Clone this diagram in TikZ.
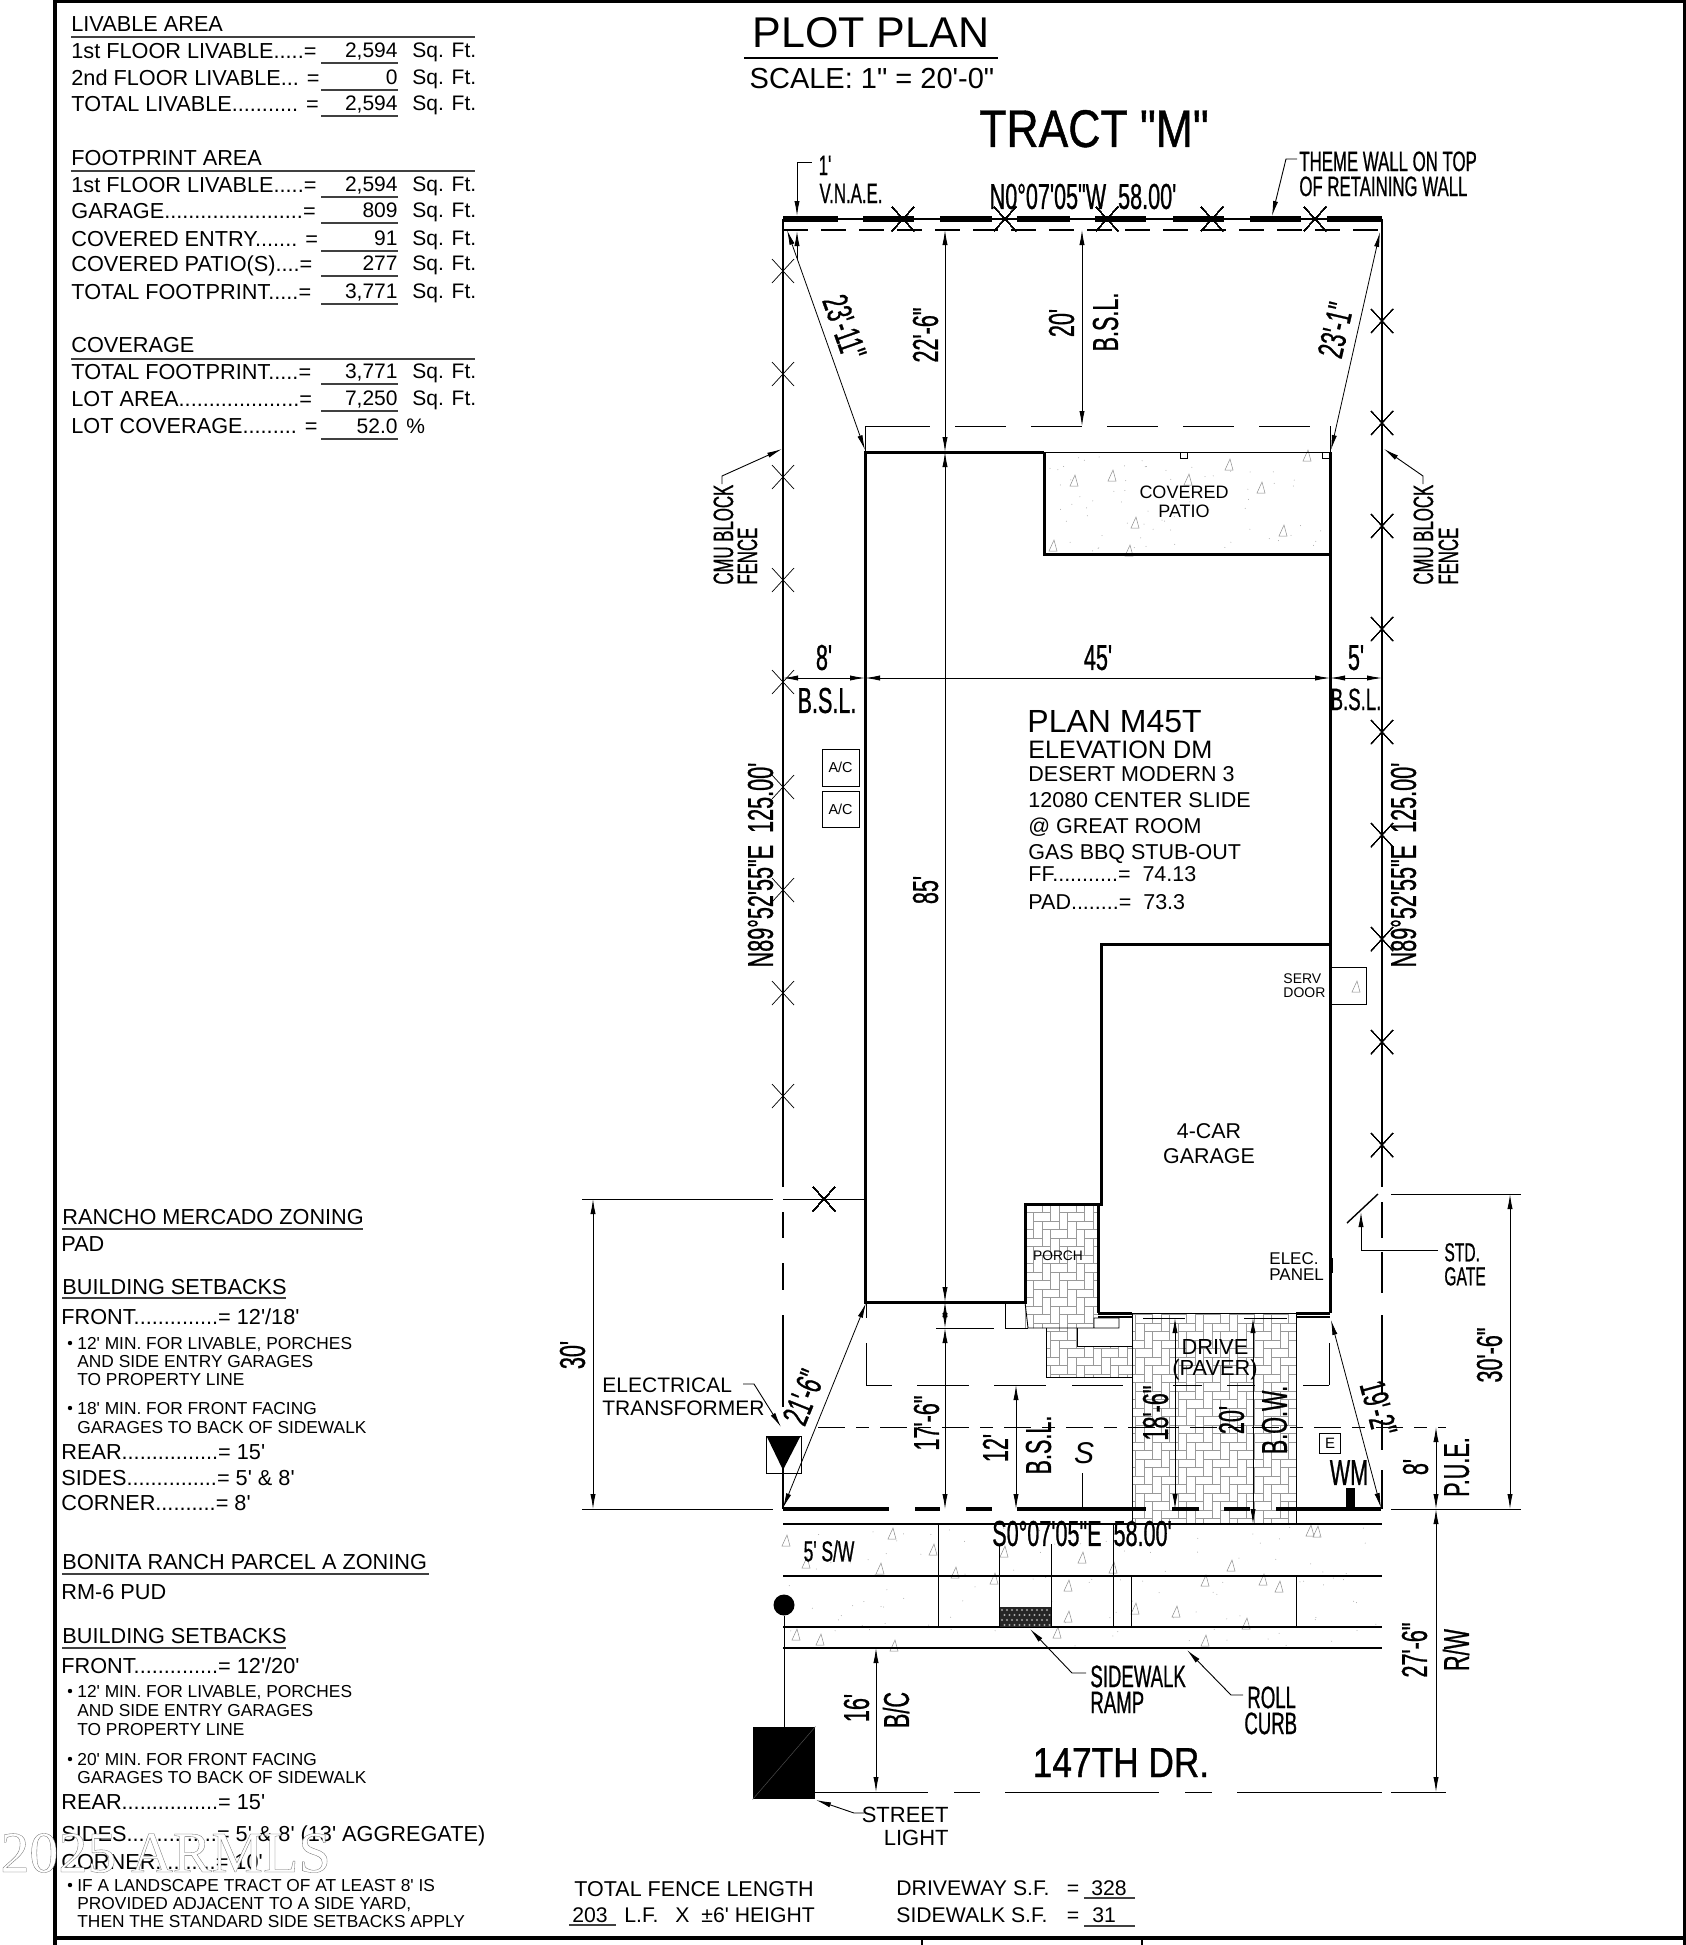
\documentclass[tikz,border=0pt]{standalone}
\usepackage{fontspec}
\setmainfont[Ligatures=TeXOff]{Liberation Sans}
\newfontfamily\narrowf[Ligatures=TeXOff,FakeStretch=0.6,FakeBold=0.7]{Liberation Sans}
\newfontfamily\midf[Ligatures=TeXOff,FakeStretch=0.84,FakeBold=0.8]{Liberation Sans}
\newfontfamily\wmarkf[Ligatures=TeXOff]{Liberation Serif}
\usetikzlibrary{arrows.meta}
\tikzset{
	lbl/.style={inner sep=0pt,font=\fontsize{#1}{#1}\selectfont,text height=#1*0.716pt,text depth=0pt},
	nar/.style={lbl=#1,font={\narrowf\fontsize{#1}{#1}\selectfont}},
	wide/.style={lbl=#1,font={\midf\fontsize{#1}{#1}\selectfont}},
	frameline/.style={line width=1.6pt},
	wall/.style={line width=1.5pt},
	thinline/.style={line width=0.45pt},
	rule/.style={line width=0.55pt,draw=black!75},
	fence/.style={line width=1.1pt},
	xmark/.style={line width=0.35pt},
	dim/.style={line width=0.4pt,{Latex[length=7.5pt,width=2.6pt]}-{Latex[length=7.5pt,width=2.6pt]}},
	leader/.style={line width=0.45pt,-{Latex[length=7.5pt,width=2.6pt]}},
	conc/.style={line width=0.25pt,draw=black!45},
	paver/.style={line width=0.3pt,draw=black!40},
}
\newcommand{\fencex}[2]{\draw[xmark] (#1,#2) +(-11,-12) -- +(11,12) +(-11,12) -- +(11,-12);}
\begin{document}
\begin{tikzpicture}[x=0.5pt,y=-0.5pt]
	\useasboundingbox (0,0) rectangle (1686,1945);
	% sheet frame
	\draw[frameline] (1686,1) -- (55,1) -- (55,1945);
	\draw[frameline] (1685,1) -- (1685,1945);
	\draw[frameline] (55,1938) -- (1686,1938);
	\draw[line width=0.8pt] (922,1938) -- (922,1945);
	\draw[line width=0.8pt] (1142,1938) -- (1142,1945);

	% area tables
	\node[lbl=10.85,anchor=west] (livable) at (71,24) {LIVABLE AREA};
	\node[lbl=10.85,anchor=west] (footprint) at (71,158) {FOOTPRINT AREA};
	\node[lbl=10.85,anchor=west] (coverage) at (71,345) {COVERAGE};
	\foreach \yy in {37,171,359}
		\draw[rule] (71,\yy) -- (475,\yy);
	\foreach \lab/\val/\yy in {
		{1st FLOOR LIVABLE.....=}/{2,594}/51,
		{2nd FLOOR LIVABLE... =}/0/78,
		{TOTAL LIVABLE........... =}/{2,594}/104,
		{1st FLOOR LIVABLE.....=}/{2,594}/185,
		{GARAGE.......................=}/809/211,
		{COVERED ENTRY....... =}/91/239,
		{COVERED PATIO(S)....=}/277/264,
		{TOTAL FOOTPRINT.....=}/{3,771}/292,
		{TOTAL FOOTPRINT.....=}/{3,771}/372,
		{LOT AREA....................=}/{7,250}/399}
	{
		\node[lbl=10.85,anchor=west] (row\yy) at (71,\yy) {\lab};
		\node[lbl=10.5,anchor=east] (val\yy) at (398,\yy-1) {\val};
		\node[lbl=10.5,anchor=west] (unit\yy) at (412,\yy-1) {Sq. Ft.};
		\draw[rule] (321,\yy+12) -- (398,\yy+12);
	}
	\node[lbl=10.85,anchor=west] (lotcov) at (71,426) {LOT COVERAGE......... =};
	\node[lbl=10.5,anchor=east] (lotval) at (398,426) {52.0};
	\node[lbl=10.5,anchor=west] (lotpct) at (406,426) {\%};
	\draw[rule] (321,439) -- (398,439);

	% zoning notes
	\foreach \txt/\xx/\yy in {
		{RANCHO MERCADO ZONING}/62/1217, {PAD}/61/1244, {BUILDING SETBACKS}/62/1287,
		{FRONT..............= 12'/18'}/61/1317, {REAR................= 15'}/61/1452,
		{SIDES...............= 5' \& 8'}/61/1478, {CORNER..........= 8'}/61/1503,
		{BONITA RANCH PARCEL A ZONING}/62/1562, {RM-6 PUD}/61/1592, {BUILDING SETBACKS}/62/1636,
		{FRONT..............= 12'/20'}/61/1666, {REAR................= 15'}/61/1802,
		{SIDES...............= 5' \& 8' (13' AGGREGATE)}/61/1834, {CORNER..........= 10'}/61/1862}
		\node[lbl=10.85,anchor=west] (note\yy) at (\xx,\yy) {\txt};
	\foreach \xa/\xb/\yy in {62/363/1229,62/286/1298,62/429/1574,62/286/1648}
		\draw[rule] (\xa,\yy) -- (\xb,\yy);
	\foreach \txt/\yy in {
		{12' MIN. FOR LIVABLE, PORCHES}/1343, {AND SIDE ENTRY GARAGES}/1361, {TO PROPERTY LINE}/1379,
		{18' MIN. FOR FRONT FACING}/1408, {GARAGES TO BACK OF SIDEWALK}/1427,
		{12' MIN. FOR LIVABLE, PORCHES}/1691, {AND SIDE ENTRY GARAGES}/1710, {TO PROPERTY LINE}/1729,
		{20' MIN. FOR FRONT FACING}/1759, {GARAGES TO BACK OF SIDEWALK}/1777,
		{IF A LANDSCAPE TRACT OF AT LEAST 8' IS}/1885, {PROVIDED ADJACENT TO A SIDE YARD,}/1903,
		{THEN THE STANDARD SIDE SETBACKS APPLY}/1921}
		\node[lbl=8.67,anchor=west] (small\yy) at (77,\yy) {\txt};
	\foreach \yy in {1343,1408,1691,1759,1885}
		\fill (70,\yy) circle (2.2);

	% titles
	\node[lbl=21.5] (plottitle) at (871,32) {PLOT PLAN};
	\draw[line width=1.4pt] (744,58) -- (998,58);
	\node[lbl=14.5] (scale) at (872,78) {SCALE: 1" = 20'-0"};
	\node[wide=26.5] (tract) at (1094,128) {TRACT "M"};

	% paver field
	\begin{scope}
		\clip (1025,1204) rectangle (1098,1328) (1046,1328) rectangle (1132,1377) (1132,1313) rectangle (1296,1524);
		\foreach \a in {-4,...,38}
			\foreach \b in {-12,...,11}
				\draw[paver] ({1025+8.5*(\a+2*\b)},{1204+8.5*(\a-2*\b)}) rectangle +(17,8.5)
					({1025+8.5*(\a+2*\b)},{1204+8.5*(\a-2*\b+1)}) rectangle +(8.5,17);
	\end{scope}
	\fill[white] (1077,1328) rectangle (1132,1346);
	\fill[white] (1094,1318) rectangle (1119,1328);

	% concrete marks
	\foreach \xx/\yy in {1074/481,1112/476,1229/465,1261/488,1283/531,1135/523,1053/546,1307/456,1188/480,1129/551,
		786/1541,892/1534,933/1550,880/1569,806/1563,1004/1552,994/1579,1082/1558,1068/1586,1068/1617,1057/1633,
		1113/1568,1135/1609,1176/1612,1231/1566,1205/1581,1263/1580,1279/1587,1310/1531,1317/1532,1205/1641,1246/1624,
		820/1640,796/1635,894/1646,955/1573,1356/987}
		\draw[conc] (\xx-4,\yy+5) -- (\xx+4,\yy+5) -- (\xx+1,\yy-6) -- cycle;
	\pgfmathsetseed{7}
	\foreach \i in {1,...,70}
		\fill[black!35] ({1050+275*rnd},{456+95*rnd}) circle (0.5);
	\foreach \i in {1,...,110}
		\fill[black!35] ({785+595*rnd},{1526+120*rnd}) circle (0.5);

	% lot lines
	\draw[fence] (783,219) -- (783,1187);
	\draw[fence] (1382,219) -- (1382,1187);
	\draw[line width=1.4pt] (783,219) -- (1382,219);
	\foreach \xa/\xb in {783/838,863/914,940/992,1017/1070,1095/1146,1173/1224,1250/1301,1327/1382}
		\draw[line width=3.4pt] (\xa,219) -- (\xb,219);
	\draw[line width=0.8pt,dash pattern=on 12.5pt off 6.5pt] (783,230) -- (1382,230);
	\foreach \ya/\yb in {1212/1238,1263/1290,1315/1407,1437/1509}
		\draw[fence] (783,\ya) -- (783,\yb);
	\foreach \ya/\yb in {1202/1238,1252/1293,1315/1395,1420/1450,1470/1509}
		\draw[fence] (1382,\ya) -- (1382,\yb);
	\foreach \xa/\xb in {783/889,915/940,966/992,1017/1146,1172/1199,1224/1250,1276/1381}
		\draw[line width=1.6pt] (\xa,1509) -- (\xb,1509);
	\foreach \yy in {271,374,477,580,682,787,890,993,1096}
		\fencex{783}{\yy}
	\foreach \yy in {321,423,526,629,732,835,939,1042,1145}
		\fencex{1382}{\yy}
	\foreach \xx in {903,1005,1107,1212,1315}
		\fencex{\xx}{219}
	\fencex{824}{1199}
	\draw[thinline] (783,1199) -- (866,1199);
	\draw[line width=0.7pt] (1378,1194) -- (1347,1223);

	% building setback lines
	\draw[thinline] (865,452) -- (865,426) -- (880,426);
	\draw[thinline] (1330,452) -- (1330,426);
	\draw[thinline,dash pattern=on 25.5pt off 12.5pt] (879,426) -- (1330,426);
	\draw[thinline] (866,1302) -- (866,1318) (866,1343) -- (866,1385);
	\draw[thinline] (1329,1343) -- (1329,1385);
	\foreach \xa/\xb in {866/892,917/969,994/1046,1072/1123,1173/1202,1227/1255,1303/1329}
		\draw[thinline] (\xa,1385) -- (\xb,1385);
	\draw[thinline,dash pattern=on 13.5pt off 5.5pt on 6.5pt off 5.5pt] (818,1427) -- (1446,1427);

	% building
	\draw[wall] (1044,452) -- (865,452) -- (865,1302) -- (1025,1302) -- (1025,1204) -- (1101,1204) -- (1101,944) -- (1330,944);
	\draw[wall] (1330,452) -- (1330,1313);
	\draw[wall] (1044,452) -- (1044,554) -- (1330,554);
	\draw[thinline] (1044,452) -- (1330,452);
	\draw[thinline] (1180,452) rectangle (1187,458) (1322,452) rectangle (1329,458);
	\draw[wall] (1098,1204) -- (1098,1313);
	\draw[thinline] (1098,1313) -- (1296,1313);
	\draw[line width=1.5pt] (1098,1313) -- (1132,1313) (1296,1313) -- (1330,1313);
	\draw[line width=0.8pt] (1098,1317) -- (1132,1317) (1296,1317) -- (1330,1317);
	\draw[thinline] (1132,1313) -- (1132,1524) (1296,1313) -- (1296,1524);
	\draw[thinline] (1025,1302) -- (1028,1328) -- (1119,1328) -- (1119,1318) -- (1094,1318) -- (1094,1328);
	\draw[thinline] (1005,1302) -- (1005,1328) -- (1028,1328);
	\draw[thinline] (1046,1328) -- (1046,1377) -- (1132,1377);
	\draw[thinline] (1077,1328) -- (1077,1346) -- (1132,1346);
	\draw[line width=1.2pt] (1332,1258) -- (1332,1273);

	% boxes
	\node[draw,thinline,minimum width=18.5pt,minimum height=18.5pt,inner sep=0pt,font=\fontsize{7.2}{8}\selectfont] (acA) at (840.5,767.5) {A/C};
	\node[draw,thinline,minimum width=18.5pt,minimum height=18pt,inner sep=0pt,font=\fontsize{7.2}{8}\selectfont] (acB) at (840.5,809) {A/C};
	\draw[thinline] (1331,967) rectangle (1366,1004);
	\node[draw,thinline,minimum width=10.5pt,minimum height=10pt,inner sep=0pt,font=\fontsize{7.5}{8}\selectfont] (ebox) at (1330,1443) {E};
	\draw[thinline] (766,1436) rectangle (801,1473);
	\fill (767,1437) -- (800,1437) -- (783,1470) -- cycle;
	\fill (1346,1488) rectangle (1355,1509);

	% sidewalk and street
	\foreach \yy in {1524,1576,1627,1648}
		\draw[line width=0.7pt] (783,\yy) -- (1382,\yy);
	\draw[thinline] (938,1524) -- (938,1627) (999.5,1544) -- (999.5,1627) (1051,1544) -- (1051,1627) (1113,1524) -- (1113,1627);
	\draw[thinline] (1131,1576) -- (1131,1627) (1296,1576) -- (1296,1627);
	\fill[black!85] (999.5,1607) rectangle (1051,1627);
	\foreach \i in {0,...,9}
		\foreach \j in {0,...,3}
			\fill[black!35] ({1002+5*\i+(mod(\j,2))*2.5},{1610+5*\j}) circle (1.1);
	\node[circle,fill=black,minimum size=10.5pt,inner sep=0pt] (lamp) at (784,1605) {};
	\node[fill=black,minimum width=31pt,minimum height=36pt,inner sep=0pt] (pole) at (784,1763) {};
	\draw[thinline] (lamp) -- (pole);
	\draw[line width=0.25pt,draw=black!70] (pole.south west) -- (pole.north east);
	\foreach \xa/\xb in {815/928,954/980,1005/1159,1185/1212,1237/1382,1391/1446}
		\draw[thinline] (\xa,1792) -- (\xb,1792);

	% extension lines
	\draw[thinline] (582,1199) -- (773,1199) (582,1509) -- (773,1509);
	\draw[thinline] (1391,1194) -- (1521,1194) (1391,1509) -- (1521,1509);
	\draw[thinline] (936,1328) -- (994,1328);
	\draw[thinline] (1143,1318) -- (1185,1318) (1244,1318) -- (1287,1318);
	\draw[thinline] (1082.5,1473) -- (1082.5,1509);

	% dimensions
	\draw[dim] (945,230) -- (945,452);
	\draw[dim] (945,452) -- (945,1302);
	\draw[dim] (945,1302) -- (945,1328);
	\draw[dim] (945,1328) -- (945,1509);
	\draw[dim] (1082,230) -- (1082,426);
	\draw[dim] (787,230) -- (865,450);
	\draw[dim] (1380,232) -- (1331,450);
	\draw[dim] (783,678) -- (865,678);
	\draw[dim] (865,678) -- (1330,678);
	\draw[dim] (1330,678) -- (1382,678);
	\draw[dim] (593,1199) -- (593,1509);
	\draw[dim] (1510,1194) -- (1510,1509);
	\draw[dim] (783,1508) -- (866,1303);
	\draw[dim] (1331,1320) -- (1381,1508);
	\draw[dim] (1016,1385) -- (1016,1509);
	\draw[dim] (1175,1318) -- (1175,1509);
	\draw[dim] (1253,1318) -- (1253,1524);
	\draw[dim] (1436,1427) -- (1436,1509);
	\draw[dim] (1436,1509) -- (1436,1792);
	\draw[dim] (876,1648) -- (876,1792);
	\draw[thinline,-{Latex[length=7.5pt,width=2.6pt]}] (797,162) -- (797,216);
	\draw[thinline] (797,162) -- (812,162);
	\draw[thinline,-{Latex[length=7.5pt,width=2.6pt]}] (797,260) -- (797,231);

	% leaders
	\draw[leader] (1297,159) -- (1286,159) -- (1272,216);
	\draw[leader] (722,484) -- (722,476) -- (782,449);
	\draw[leader] (1423,484) -- (1423,476) -- (1384,449);
	\draw[leader] (1438,1250) -- (1361,1250) -- (1361,1212);
	\draw[leader] (743,1384) -- (754,1384) -- (781,1427);
	\draw[leader] (1086,1673) -- (1072,1673) -- (1030,1629);
	\draw[leader] (1243,1695) -- (1231,1695) -- (1187,1650);
	\draw[leader] (864,1813) -- (854,1813) -- (816,1800);

	% lot labels
	\node[nar=18] (northbrg) at (1083,196) {N0°07'05"W\ \ 58.00'};
	\node[nar=18] (southbrg) at (1082,1533) {S0°07'05"E\ \ 58.00'};
	\node[nar=18,rotate=90] (westbrg) at (760,865) {N89°52'55"E\ \ 125.00'};
	\node[nar=18,rotate=90] (eastbrg) at (1403,865) {N89°52'55"E\ \ 125.00'};
	\node[nar=14] (onefoot) at (825,165) {1'};
	\node[nar=14] (vnae) at (851,193) {V.N.A.E.};
	\node[nar=14,anchor=west] (themeA) at (1299,161) {THEME WALL ON TOP};
	\node[nar=14,anchor=west] (themeB) at (1299,186) {OF RETAINING WALL};
	\node[nar=14,rotate=90,anchor=west] (cmuA) at (723,585) {CMU BLOCK};
	\node[nar=14,rotate=90,anchor=west] (cmuB) at (747,585) {FENCE};
	\node[nar=14,rotate=90,anchor=west] (cmuC) at (1423,585) {CMU BLOCK};
	\node[nar=14,rotate=90,anchor=west] (cmuD) at (1448,585) {FENCE};

	% dimension labels
	\node[nar=18,rotate=-70.5] (dimA) at (845,327) {23'-11"};
	\node[nar=18,rotate=77] (dimB) at (1335,330) {23'-1"};
	\node[nar=18,rotate=90] (dimC) at (925,335) {22'-6"};
	\node[nar=18,rotate=90] (dimD) at (1061,323) {20'};
	\node[nar=18,rotate=90] (bslA) at (1105,322) {B.S.L.};
	\node[nar=18,rotate=90] (dimE) at (925,890) {85'};
	\node[nar=18] (dimF) at (824,657) {8'};
	\node[nar=18] (dimG) at (1098,657) {45'};
	\node[nar=18] (dimH) at (1356,657) {5'};
	\node[nar=18] (bslB) at (827,700) {B.S.L.};
	\node[nar=15.5] (bslC) at (1356,699) {B.S.L.};
	\node[nar=18,rotate=90] (dimJ) at (572,1355) {30'};
	\node[nar=18,rotate=90] (dimK) at (1489,1355) {30'-6"};
	\node[nar=18,rotate=68] (dimL) at (803,1397) {21'-6"};
	\node[nar=18,rotate=-75] (dimM) at (1379,1408) {19'-2"};
	\node[nar=18,rotate=90] (dimN) at (926,1423) {17'-6"};
	\node[nar=18,rotate=90] (dimP) at (995,1448) {12'};
	\node[nar=18,rotate=90] (bslD) at (1038,1445) {B.S.L.};
	\node[nar=18,rotate=90] (dimQ) at (1155,1413) {18'-6"};
	\node[nar=18,rotate=90] (dimR) at (1231,1420) {20'};
	\node[nar=18,rotate=90] (bow) at (1274,1420) {B.O.W.};
	\node[nar=18,rotate=90] (dimS) at (1415,1467) {8'};
	\node[nar=18,rotate=90] (pue) at (1456,1467) {P.U.E.};
	\node[nar=18,rotate=90] (dimT) at (1414,1650) {27'-6"};
	\node[nar=18,rotate=90] (rw) at (1456,1650) {R/W};
	\node[nar=18,rotate=90] (dimU) at (856,1708) {16'};
	\node[nar=18,rotate=90] (bc) at (896,1710) {B/C};
	\node[lbl=15,font=\fontsize{15}{15}\selectfont\itshape] (sewer) at (1084,1453) {S};
	\node[nar=18] (wm) at (1349,1472) {WM};

	% plan labels
	\node[lbl=16,anchor=west] (plan) at (1027,721) {PLAN M45T};
	\node[lbl=12.6,anchor=west] (elev) at (1028,749) {ELEVATION DM};
	\foreach \txt/\yy in {{DESERT MODERN 3}/774,{12080 CENTER SLIDE}/800,{@ GREAT ROOM}/826,{GAS BBQ STUB-OUT}/852,{FF...........=\ \ 74.13}/874,{PAD........=\ \ 73.3}/902}
		\node[lbl=10.75,anchor=west] (info\yy) at (1028,\yy) {\txt};
	\node[lbl=9] (patioA) at (1184,492) {COVERED};
	\node[lbl=9] (patioB) at (1184,511) {PATIO};
	\node[lbl=10.7] (garageA) at (1209,1131) {4-CAR};
	\node[lbl=10.7] (garageB) at (1209,1156) {GARAGE};
	\node[lbl=7,anchor=west] (servA) at (1283,978) {SERV};
	\node[lbl=7,anchor=west] (servB) at (1283,992) {DOOR};
	\node[lbl=8.5,anchor=west] (elecA) at (1269,1258) {ELEC.};
	\node[lbl=8.5,anchor=west] (elecB) at (1269,1274) {PANEL};
	\node[lbl=6.9] (porch) at (1058,1256) {PORCH};
	\node[lbl=10.9] (driveA) at (1215,1347) {DRIVE};
	\node[lbl=10.9] (driveB) at (1215,1368) {(PAVER)};
	\node[lbl=10.5,anchor=west] (elecC) at (602,1385) {ELECTRICAL};
	\node[lbl=10.5,anchor=west] (elecD) at (602,1408) {TRANSFORMER};
	\node[nar=13,anchor=west] (gateA) at (1444,1252) {STD.};
	\node[nar=13,anchor=west] (gateB) at (1444,1276) {GATE};
	\node[nar=14.5] (sw) at (829,1551) {5' S/W};
	\node[nar=15.5,anchor=west] (rampA) at (1090,1676) {SIDEWALK};
	\node[nar=15.5,anchor=west] (rampB) at (1090,1702) {RAMP};
	\node[nar=15.5,anchor=west] (curbA) at (1247,1697) {ROLL};
	\node[nar=15.5,anchor=west] (curbB) at (1244,1723) {CURB};
	\node[wide=21] (street) at (1121,1762) {147TH DR.};
	\node[lbl=11,anchor=east] (lightA) at (949,1815) {STREET};
	\node[lbl=11,anchor=east] (lightB) at (949,1838) {LIGHT};

	% fence and paving totals
	\node[lbl=10.75,anchor=west] (fenceA) at (574,1889) {TOTAL FENCE LENGTH};
	\node[lbl=10.6,anchor=west] (fenceB) at (572,1915) {203};
	\node[lbl=10.6,anchor=west] (fenceC) at (624,1915) {L.F.};
	\node[lbl=10.6,anchor=west] (fenceD) at (675,1915) {X};
	\node[lbl=10.6,anchor=west] (fenceE) at (701,1915) {±6' HEIGHT};
	\draw[rule] (569,1925) -- (616,1925);
	\node[lbl=10.6,anchor=west] (paveA) at (896,1888) {DRIVEWAY S.F.};
	\node[lbl=10.6,anchor=west] (paveB) at (896,1915) {SIDEWALK S.F.};
	\node[lbl=10.6] (eqA) at (1073,1888) {=};
	\node[lbl=10.6] (eqB) at (1073,1915) {=};
	\node[lbl=10.6] (paveC) at (1109,1888) {328};
	\node[lbl=10.6,anchor=west] (paveD) at (1092,1915) {31};
	\draw[rule] (1084,1898) -- (1135,1898) (1084,1926) -- (1135,1926);

	% watermark
	\node[inner sep=0pt,anchor=west,font=\wmarkf\fontsize{29}{29}\selectfont] (armls) at (0,1853) {\special{pdf:code 2 Tr 0.15 w 1 1 1 rg 0.4 0.4 0.4 RG}2025 ARMLS\special{pdf:code 0 Tr 0 0 0 rg 0 0 0 RG}};
\end{tikzpicture}
\end{document}
